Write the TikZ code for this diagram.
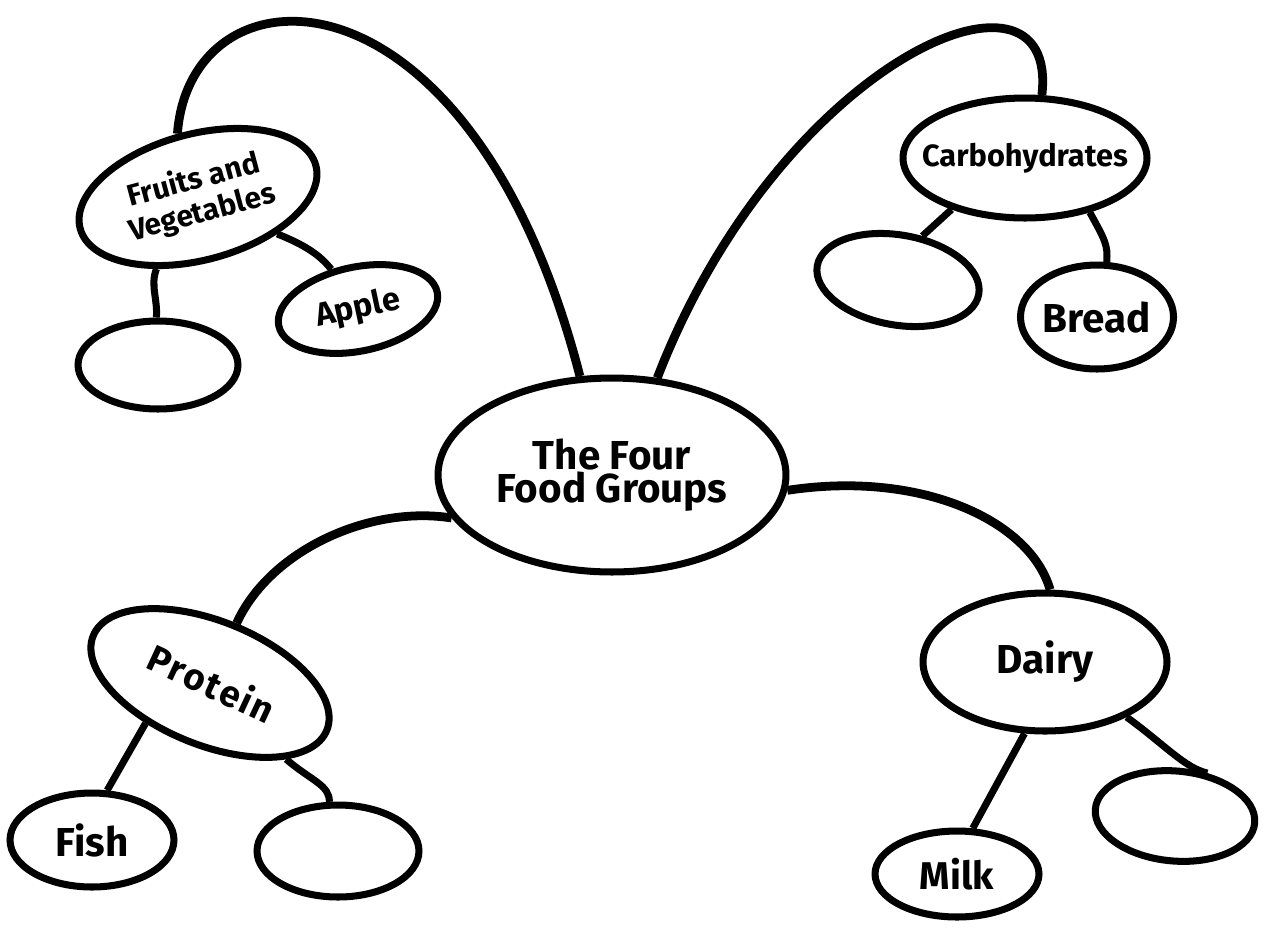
\documentclass[tikz,border=0pt]{standalone}
\usepackage{fontspec}
\setmainfont{Fira Sans}
\usetikzlibrary{shapes.geometric,calc}

\tikzset{
  bubble/.style={ellipse,draw,line width=4pt,inner sep=0pt,align=center,fill=white},
  branch/.style={line width=5pt},
  twig/.style={line width=4pt},
}

\begin{document}
\begin{tikzpicture}[x=0.02cm,y=-0.02cm]
  \useasboundingbox (0,0) rectangle (1270,927);

  \node[bubble,minimum width=6.96cm,minimum height=3.88cm,
    label={[align=center,font=\bfseries\fontsize{23}{17}\selectfont]center:The Four\\Food Groups}]
    (groups) at (612,475) {};

  \node[bubble,rotate=15,minimum width=4.88cm,minimum height=2.52cm,
    font=\bfseries\fontsize{17}{19}\selectfont] (fruits) at (198,197) {Fruits and\\Vegetables};
  \node[bubble,rotate=12,minimum width=3.24cm,minimum height=1.68cm,
    font=\bfseries\fontsize{18.5}{18.5}\selectfont] (apple) at (358,309) {Apple};
  \node[bubble,minimum width=3.2cm,minimum height=1.76cm] (vegblank) at (158,365) {};

  \node[bubble,minimum width=4.88cm,minimum height=2.4cm,
    label={[font=\bfseries\fontsize{17.5}{17.5}\selectfont]center:Carbohydrates}] (carbs) at (1025,158) {};
  \node[bubble,rotate=-10,minimum width=3.28cm,minimum height=1.8cm] (carbblank) at (898,280) {};
  \node[bubble,minimum width=2.76cm,minimum height=2.08cm,
    font=\bfseries\fontsize{23}{23}\selectfont] (bread) at (1097,317) {Bread};

  \node[bubble,rotate=-22,minimum width=5.04cm,minimum height=2.48cm] (protein) at (210,683) {};
  \node[rotate=-25,font=\bfseries\fontsize{21}{21}\selectfont\addfontfeature{LetterSpace=6}]
    (proteintext) at (212,683) {Protein};
  \node[bubble,minimum width=3.28cm,minimum height=1.88cm,
    font=\bfseries\fontsize{23}{23}\selectfont] (fish) at (92,840) {Fish};
  \node[bubble,minimum width=3.24cm,minimum height=1.84cm] (protblank) at (338,851) {};

  \node[bubble,minimum width=4.88cm,minimum height=2.76cm,
    font=\bfseries\fontsize{23}{23}\selectfont] (dairy) at (1045,662) {Dairy};
  \node[bubble,rotate=-5,minimum width=3.2cm,minimum height=1.8cm] (dairyblank) at (1175,816) {};
  \node[bubble,minimum width=3.28cm,minimum height=1.72cm,
    font=\bfseries\fontsize{22}{22}\selectfont] (milk) at (957,874) {Milk};

  \draw[branch] (groups.108) .. controls (470,-50) and (190,-40) .. (fruits.93);
  \draw[branch] (groups.65) .. controls (780,60) and (1060,-60) .. (carbs.75);
  \draw[branch] (groups.195) .. controls (370,505) and (270,550) .. (protein.88);
  \draw[branch] (groups.355) .. controls (920,470) and (1030,520) .. (dairy.86);

  \draw[twig] (fruits.225) .. controls (150,285) and (158,300) .. (vegblank.92);
  \draw[twig] (fruits.320) .. controls (305,245) and (320,255) .. (apple.112);
  \draw[twig] (carbs.215) -- (carbblank.71);
  \draw[twig] (carbs.320) .. controls (1105,240) and (1108,245) .. (bread.80);
  \draw[twig] (protein.234) -- (fish.73);
  \draw[twig] (protein.337) .. controls (310,780) and (330,785) .. (protblank.100);
  \draw[twig] (dairy.254) -- (milk.71);
  \draw[twig] (dairy.326) .. controls (1165,745) and (1185,768) .. (dairyblank.58);
\end{tikzpicture}
\end{document}
